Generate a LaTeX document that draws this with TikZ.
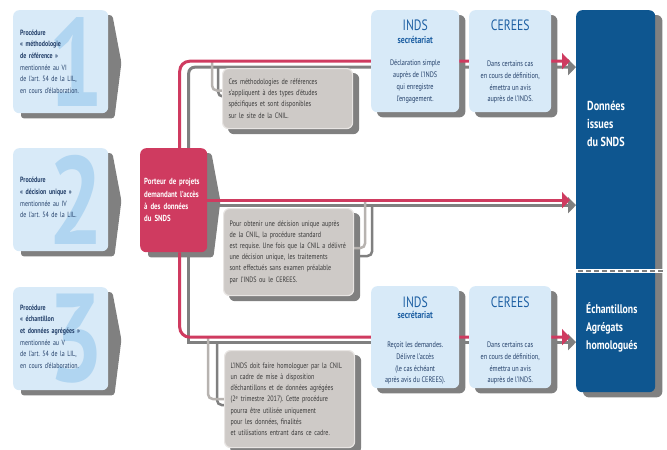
\documentclass[tikz,border=0pt]{standalone}
\usepackage{fontspec}
\setmainfont{PT Sans}[FakeStretch=0.78]
\usetikzlibrary{arrows.meta,calc}
\frenchspacing

\definecolor{procblue}{HTML}{D8EAF8}
\definecolor{digitblue}{HTML}{B0D5F1}
\definecolor{portred}{HTML}{CF3B60}
\definecolor{datablue}{HTML}{0E5690}
\definecolor{shadowgray}{HTML}{808080}
\definecolor{notefill}{HTML}{CECAC7}
\definecolor{noteedge}{HTML}{E8E5E3}
\definecolor{linkgray}{HTML}{B7B3B0}
\definecolor{titleblue}{HTML}{1E60A3}
\definecolor{bodynavy}{HTML}{24406A}
\definecolor{notetext}{HTML}{3A3A3A}

\pgfdeclarelayer{shadows}
\pgfdeclarelayer{links}
\pgfsetlayers{shadows,links,main}

\newcommand{\chevshadow}[1]{%
  \fill[shadowgray,rounded corners=3] ($(#1.north west)+(8,5)$) -- ($(#1.north east)+(4,5)$)
    -- ($(#1.east)+(13,1)$) -- ($(#1.south east)+(6,5)$) -- ($(#1.south west)+(8,5)$) -- cycle;}
\newcommand{\boxshadow}[1]{%
  \fill[shadowgray,rounded corners=6] ($(#1.north west)+(6,5)$) rectangle ($(#1.south east)+(6,5)$);}

\begin{document}
\begin{tikzpicture}[x=1pt,y=-1pt,
        procbox/.style={fill=procblue,rounded corners=6,minimum width=95,minimum height=103,anchor=north west},
        proctext/.style={anchor=west,inner sep=0,text width=86,align=left,text=bodynavy,
            font=\fontsize{7.6}{11.6}\selectfont},
        digitnum/.style={text=digitblue,inner sep=0,font=\fontsize{125}{125}\selectfont\bfseries},
        portbox/.style={fill=portred,rounded corners=6,minimum width=67,minimum height=104,
            anchor=north west,inner xsep=4,text width=59,align=left,text=white,
            font=\fontsize{8.8}{12.3}\selectfont\bfseries},
        stagebox/.style={fill=procblue,rounded corners=6,minimum width=88,minimum height=102,anchor=north west},
        stagetitle/.style={text=titleblue,anchor=base,inner sep=0,font=\fontsize{15}{15}\selectfont},
        stagesub/.style={text=titleblue,anchor=base,inner sep=0,font=\fontsize{10}{10}\selectfont\bfseries},
        stagebody/.style={text=bodynavy,anchor=north,inner sep=0,align=center,font=\fontsize{8}{11.7}\selectfont},
        databox/.style={fill=datablue,rounded corners=6,minimum width=79,minimum height=382,anchor=north west},
        datatext/.style={text=white,anchor=north west,inner sep=0,align=left,font=\fontsize{13}{18}\selectfont\bfseries},
        notebox/.style={fill=notefill,draw=noteedge,line width=1.2,rounded corners=6,anchor=north west,
            inner xsep=6,text width=118,align=left,text=notetext,font=\fontsize{7.8}{11.2}\selectfont},
        redline/.style={portred,line width=3,rounded corners=10,-{Triangle[length=8pt,width=16pt]}},
        grayline/.style={shadowgray,line width=3,rounded corners=6,-{Triangle[length=8pt,width=16pt]}},
        notelink/.style={linkgray,line width=2.5,rounded corners=5},
        notelinkshadow/.style={shadowgray,line width=2.5,rounded corners=5},
        ]
    \useasboundingbox (0,0) rectangle (667,450);

    % procedures
    \node[procbox] (proc1) at (13,10) {};
    \node[digitnum] (digit1) at ($(proc1.center)+(15,0)$) {1};
    \node[proctext] (proc1text) at ($(proc1.west)+(7,0)$)
        {\textbf{Procédure}\\\textbf{« méthodologie}\\\textbf{de référence »}\\mentionnée au VI\\de l’art. 54 de la LIL,\\en cours d’élaboration.};
    \node[procbox] (proc2) at (13,148) {};
    \node[digitnum] (digit2) at ($(proc2.center)+(15,0)$) {2};
    \node[proctext] (proc2text) at ($(proc2.west)+(7,-2)$)
        {\textbf{Procédure}\\\textbf{« décision unique »}\\mentionnée au IV\\de l’art. 54 de la LIL.};
    \node[procbox] (proc3) at (13,287) {};
    \node[digitnum] (digit3) at ($(proc3.center)+(15,0)$) {3};
    \node[proctext] (proc3text) at ($(proc3.west)+(7,-2)$)
        {\textbf{Procédure}\\\textbf{« échantillon}\\\textbf{et données agrégées »}\\mentionnée au V\\de l’art. 54 de la LIL,\\en cours d’élaboration.};

    \node[portbox] (porteur) at (140,148) {Porteur de projets\\demandant l’accès\\à des données\\du SNDS};

    % INDS / CEREES
    \node[stagebox] (inds1) at (371,10) {};
    \node[stagetitle] (inds1title) at ($(inds1.north)+(0,20)$) {INDS};
    \node[stagesub] (inds1sub) at ($(inds1.north)+(0,33.5)$) {secrétariat};
    \node[stagebody] (inds1body) at ($(inds1.north)+(0,50)$) {Déclaration simple\\auprès de l’INDS\\qui enregistre\\l’engagement.};

    \node[stagebox,minimum width=82] (cerees1) at (469,10) {};
    \node[stagetitle] (cerees1title) at ($(cerees1.north)+(0,20.5)$) {CEREES};
    \node[stagebody] (cerees1body) at ($(cerees1.north)+(0,51)$) {Dans certains cas\\en cours de définition,\\émettra un avis\\auprès de l’INDS.};

    \node[stagebox] (inds2) at (371,286) {};
    \node[stagetitle] (inds2title) at ($(inds2.north)+(0,21)$) {INDS};
    \node[stagesub] (inds2sub) at ($(inds2.north)+(0,32.5)$) {secrétariat};
    \node[stagebody] (inds2body) at ($(inds2.north)+(0,56)$) {Reçoit les demandes.\\Délivre l’accès\\(le cas échéant\\après avis du CEREES).};

    \node[stagebox,minimum width=82] (cerees2) at (469,286) {};
    \node[stagetitle] (cerees2title) at ($(cerees2.north)+(0,21)$) {CEREES};
    \node[stagebody] (cerees2body) at ($(cerees2.north)+(0,56)$) {Dans certains cas\\en cours de définition,\\émettra un avis\\auprès de l’INDS.};

    % donnees
    \node[databox] (donnees) at (576,10) {};
    \draw[white,line width=4] ($(donnees.north west)+(-2,261)$) -- ($(donnees.north east)+(9,261)$);
    \draw[shadowgray,line width=2.5,dash pattern=on 5pt off 3pt] ($(donnees.north west)+(2,261)$) -- ($(donnees.north east)+(8,261)$);
    \node[datatext] (snds) at ($(donnees.north west)+(11,91)$) {Données\\issues\\du SNDS};
    \node[datatext,font=\fontsize{12.5}{18}\selectfont\bfseries] (homol) at ($(donnees.north west)+(10,292)$) {Échantillons\\Agrégats\\homologués};

    % notes
    \node[notebox,minimum height=60] (note1) at (222,68)
        {Ces méthodologies de références\\s’appliquent à des types d’études\\spécifiques et sont disponibles\\sur le site de la CNIL.};
    \node[notebox,minimum height=87] (note2) at (223,208)
        {Pour obtenir une décision unique auprès\\de la CNIL, la procédure standard\\est requise. Une fois que la CNIL a délivré\\une décision unique, les traitements\\sont effectués sans examen préalable\\par l’INDS ou le CEREES.};
    \node[notebox,minimum height=97] (note3) at (224,350)
        {L’INDS doit faire homologuer par la CNIL\\un cadre de mise à disposition\\d’échantillons et de données agrégées\\(2\textsuperscript{e} trimestre 2017). Cette procédure\\pourra être utilisée uniquement\\pour les données, finalités\\et utilisations entrant dans ce cadre.};

    \begin{pgfonlayer}{shadows}
        \chevshadow{proc1} \chevshadow{proc2} \chevshadow{proc3} \chevshadow{porteur}
        \boxshadow{inds1} \boxshadow{cerees1} \boxshadow{inds2} \boxshadow{cerees2}
        \boxshadow{note1} \boxshadow{note2} \boxshadow{note3}
        \fill[shadowgray,rounded corners=6] ($(donnees.north west)+(7,5)$) rectangle ($(donnees.south east)+(7,5)$);
    \end{pgfonlayer}

    \begin{pgfonlayer}{links}
        % shadows of the links
        \draw[notelinkshadow] ($(note1.north west)+(-4,-2)$) |- ($(note1.west)+(0,-2)$);
        \draw[notelinkshadow] ($(note2.north east)+(18,-3)$) |- ($(note2.east)+(0,4)$);
        \draw[notelinkshadow] ($(note3.north west)+(-7,-7)$) |- ($(note3.west)+(0,6)$);
        \draw[grayline] ($(porteur.north)+(15,0)$) |- ($(inds1.west -| donnees.west)+(0,6)$);
        \draw[grayline] ($(porteur.east)+(8,5)$) -- ($(porteur.east -| donnees.west)+(0,5)$);
        \draw[grayline,rounded corners=0] ($(porteur.south)+(15,0)$) |- ($(inds2.west -| donnees.west)+(0,5)$);
        % links to the notes
        \draw[notelink] ($(note1.north west)+(-10,-7)$) |- ($(note1.west)+(0,-8)$);
        \draw[notelink] ($(note2.north east)+(11,-8)$) |- ($(note2.east)+(0,-4)$);
        \draw[notelink] ($(note3.north west)+(-16,-12)$) |- ($(note3.west)+(0,0)$);
        % main routes
        \draw[redline] ($(porteur.north)+(6,0)$) |- ($(inds1.west -| donnees.west)+(-6,0)$);
        \draw[redline] (porteur.east) -- ($(porteur.east -| donnees.west)+(-6,0)$);
        \draw[redline] ($(porteur.south)+(6,0)$) |- ($(inds2.west -| donnees.west)+(-6,0)$);
    \end{pgfonlayer}
\end{tikzpicture}
\end{document}
